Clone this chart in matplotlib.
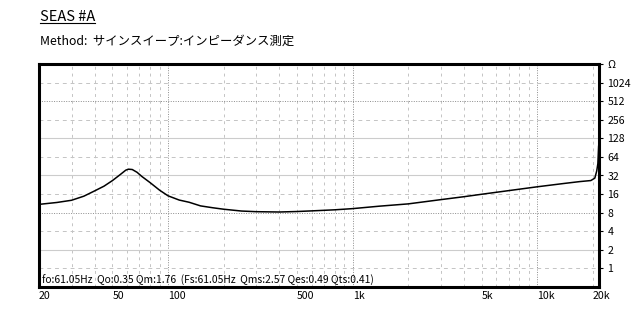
import matplotlib
matplotlib.use("Agg")
import matplotlib.pyplot as plt
from matplotlib.lines import Line2D

plt.rcParams['font.family'] = ['Noto Sans CJK JP', 'DejaVu Sans']

title = "SEAS #A"
method = "Method:  サインスイープ:インピーダンス測定"
params = "fo:61.05Hz  Qo:0.35 Qm:1.76  (Fs:61.05Hz  Qms:2.57 Qes:0.49 Qts:0.41)"

freq = [20, 25, 30, 35, 40, 45, 50, 55, 59, 61, 64, 68, 72, 80, 90, 100, 115, 130,
        150, 175, 200, 250, 300, 400, 500, 600, 800, 1000, 1400, 2000, 3000, 4000,
        5000, 7000, 10000, 14000, 17000, 19500, 20500, 21000, 21300, 21500]
imp = [10.9, 11.7, 12.7, 14.8, 18.0, 21.5, 26.5, 33.0, 39.0, 40.5, 40.0, 36.0, 31.0,
       24.5, 18.5, 15.0, 12.8, 11.8, 10.3, 9.6, 9.1, 8.5, 8.3, 8.2, 8.35, 8.55, 8.9,
       9.3, 10.2, 11.1, 13.0, 14.5, 15.9, 18.2, 21.0, 23.8, 25.5, 26.5, 29.0, 38.0,
       50.0, 95.0]

x_ticks = [20, 50, 100, 500, 1000, 5000, 10000, 20000]
x_labels = ["20", "50", "100", "500", "1k", "5k", "10k", "20k"]
y_ticks = [1, 2, 4, 8, 16, 32, 64, 128, 256, 512, 1024, 2048]
y_labels = ["1", "2", "4", "8", "16", "32", "64", "128", "256", "512", "1024", "Ω"]

# grid line groups
v_dotted = [100, 1000, 10000]
v_dashed = [30, 40, 50, 60, 70, 80, 90, 200, 300, 400, 500, 600, 700, 800, 900,
            2000, 3000, 4000, 5000, 6000, 7000, 8000, 9000, 20000]
h_solid = [2, 32, 128]
h_dotted = [8, 512]
h_dashed = [1, 4, 16, 64, 256, 1024]

W, H = 640, 320
fig = plt.figure(figsize=(W / 100, H / 100), dpi=100)
ax = fig.add_axes([39 / W, 1 - 287 / H, (599 - 39) / W, (287 - 64) / H])
ax.set_xscale("log")
ax.set_yscale("log", base=2)
ax.set_xlim(20, 21600)
ax.set_ylim(0.5, 2048)

for v in v_dashed:
    ax.axvline(v, color="#c4c4c4", lw=0.7, ls=(0, (3, 4)), zorder=1)
for v in v_dotted:
    ax.axvline(v, color="#8c8c8c", lw=0.7, ls=(0, (1, 1.5)), zorder=1)
for h in h_dashed:
    ax.axhline(h, color="#c4c4c4", lw=0.7, ls=(0, (4, 4)), zorder=1)
for h in h_dotted:
    ax.axhline(h, color="#8c8c8c", lw=0.7, ls=(0, (1, 1.5)), zorder=1)
for h in h_solid:
    ax.axhline(h, color="#cccccc", lw=0.8, zorder=1)

ax.plot(freq, imp, color="black", lw=1.1, zorder=3, clip_on=False)

for s in ax.spines.values():
    s.set_linewidth(2.2)
    s.set_zorder(4)

ax.minorticks_off()
ax.set_xticks(x_ticks)
ax.set_xticklabels(x_labels, ha="left")
ax.tick_params(axis="x", length=0, pad=3, labelsize=7.6)
ax.yaxis.tick_right()
ax.set_yticks(y_ticks)
ax.set_yticklabels(y_labels)
ax.tick_params(axis="y", direction="out", length=3, width=0.8, pad=3, labelsize=7.6)

t = fig.text(40 / W, 1 - 21 / H, title, fontsize=10.5, ha="left", va="baseline")
fig.text(40 / W, 1 - 41 / H, method, fontsize=8.9, ha="left", va="center")
fig.text(42 / W, 1 - 280 / H, params, fontsize=7.4, ha="left", va="center")

fig.canvas.draw()
bb = t.get_window_extent()
fig.add_artist(Line2D([bb.x0 / W, bb.x1 / W], [1 - 23 / H, 1 - 23 / H],
                      transform=fig.transFigure, color="black", lw=0.8))

fig.savefig("out.png", dpi=100)
